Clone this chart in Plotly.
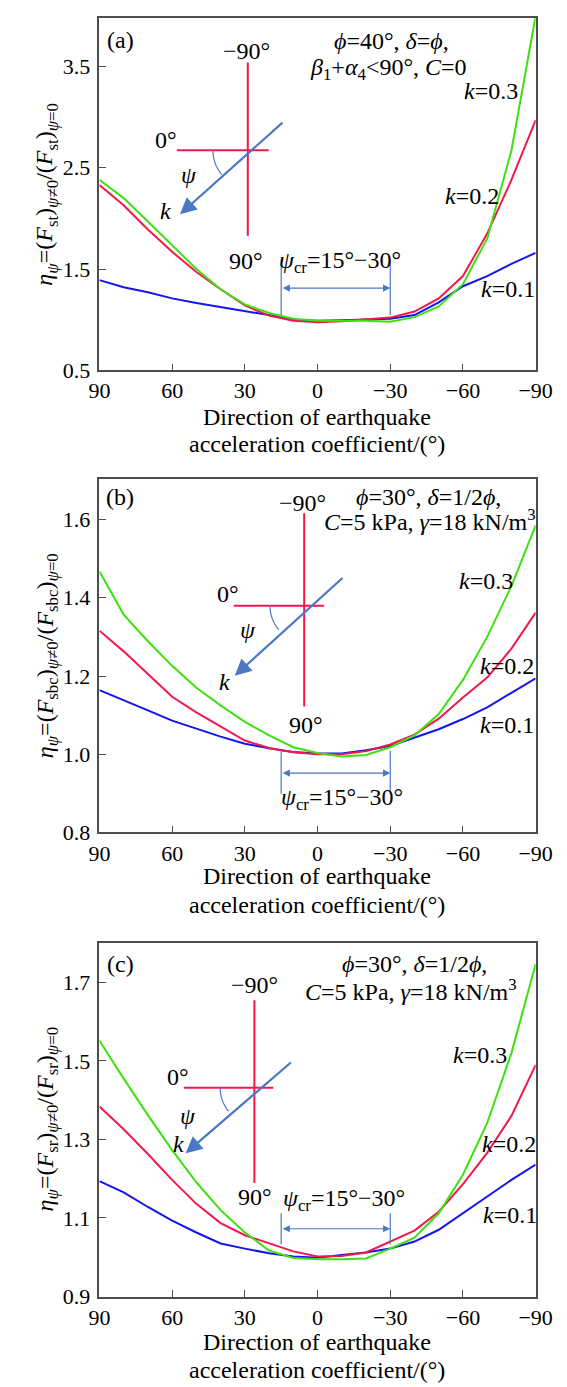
import math
import plotly.graph_objects as go

W, H = 567, 1387

# ---------------- data ----------------
psi = [90, 80, 70, 60, 50, 40, 30, 20, 10, 0, -10, -20, -30, -40, -50, -60, -70, -80, -90]

a_k01 = [1.39, 1.32, 1.27, 1.21, 1.165, 1.125, 1.09, 1.045, 1.00, 0.99, 0.995, 1.0, 1.01, 1.045, 1.17, 1.33, 1.43, 1.55, 1.66]
a_k02 = [2.33, 2.13, 1.89, 1.67, 1.47, 1.30, 1.14, 1.04, 0.99, 0.975, 0.985, 1.0, 1.02, 1.08, 1.21, 1.43, 1.85, 2.38, 2.97]
a_k03 = [2.38, 2.20, 1.97, 1.73, 1.50, 1.30, 1.15, 1.065, 1.01, 0.99, 0.99, 0.99, 0.98, 1.025, 1.13, 1.35, 1.80, 2.67, 4.0]

b_k01 = [1.164, 1.139, 1.112, 1.086, 1.065, 1.045, 1.027, 1.015, 1.006, 1.002, 1.002, 1.01, 1.021, 1.042, 1.064, 1.09, 1.12, 1.157, 1.194]
b_k02 = [1.316, 1.263, 1.205, 1.147, 1.107, 1.07, 1.035, 1.016, 1.005, 1.0, 1.0, 1.008, 1.025, 1.05, 1.091, 1.145, 1.196, 1.27, 1.362]
b_k03 = [1.467, 1.357, 1.289, 1.226, 1.17, 1.125, 1.083, 1.048, 1.018, 1.003, 0.994, 0.998, 1.018, 1.048, 1.103, 1.19, 1.30, 1.43, 1.585]

c_k01 = [1.194, 1.165, 1.128, 1.093, 1.063, 1.035, 1.022, 1.01, 1.002, 0.999, 1.006, 1.012, 1.022, 1.04, 1.07, 1.113, 1.155, 1.197, 1.236]
c_k02 = [1.384, 1.326, 1.263, 1.197, 1.136, 1.087, 1.056, 1.035, 1.015, 1.002, 1.003, 1.012, 1.04, 1.068, 1.116, 1.186, 1.266, 1.36, 1.49]
c_k03 = [1.552, 1.455, 1.362, 1.273, 1.191, 1.12, 1.063, 1.017, 0.998, 0.995, 0.995, 0.997, 1.022, 1.05, 1.112, 1.21, 1.342, 1.52, 1.747]

x_tick_vals = [90, 60, 30, 0, -30, -60, -90]
x_tick_text = ["90", "60", "30", "0", "\u221230", "\u221260", "\u221290"]
a_yticks = [0.5, 1.5, 2.5, 3.5]
b_yticks = [0.8, 1.0, 1.2, 1.4, 1.6]
c_yticks = [0.9, 1.1, 1.3, 1.5, 1.7]
a_yrange = [0.5, 3.98]
b_yrange = [0.8, 1.704]
c_yrange = [0.9, 1.80]
k_names = ["k=0.1", "k=0.2", "k=0.3"]
psi_cr = [15, -30]

# ---------------- style ----------------
FONT = "Liberation Serif"
FS = 24      # annotations / titles
FT = 22      # tick labels
C_BLUE = "#1414f0"
C_RED = "#f2184c"
C_GREEN = "#3ee012"
C_INSET_BLUE = "#4a78c4"
C_INSET_RED = "#f2184c"
C_AXIS = "#4d4d4d"


def PX(x):
    return x / W


def PY(y):
    return 1 - y / H


X_L, X_R = 84.6, 543.5

panels = [
    dict(
        ids=("x", "y"), top=10, bottom=365.7, yrange=a_yrange, yticks=a_yticks,
        series=[a_k01, a_k02, a_k03], letter="(a)", letter_pos=(106.7, 32),
        yt="<i>\u03b7</i><sub><i>\u03c8</i></sub>=(<i>F</i><sub>st</sub>)<sub><i>\u03c8</i>\u22600</sub>/(<i>F</i><sub>st</sub>)<sub><i>\u03c8</i>=0</sub>",
        cond=["<i>\u03d5</i>=40\u00b0, <i>\u03b4</i>=<i>\u03d5</i>,",
              "<i>\u03b2</i><sub>1</sub>+<i>\u03b1</i><sub>4</sub>&lt;90\u00b0, <i>C</i>=0"],
        cond_pos=[(392, 33.3), (388.6, 62)],
        kpos=[(514, 284), (476.7, 189.3), (496.7, 83.3)],
        vline=(240.7, 55, 230), hline=(143.7, 166, 262.7),
        blue=((273.3, 115.3), (169.3, 208.3)), r=36.7,
        lab={"m90": (239.3, 43.3), "z": (155, 133.3), "psi": (179.3, 168.3), "k": (154, 205), "p90": (238.6, 255)},
        cr=dict(y0=253.3, y1=310, ya=282.7, lab=(338, 256.7)),
        xt=(413.3, 440),
    ),
    dict(
        ids=("x2", "y2"), top=475.3, bottom=832.3, yrange=b_yrange, yticks=b_yticks,
        series=[b_k01, b_k02, b_k03], letter="(b)", letter_pos=(106.7, 493.3),
        yt="<i>\u03b7</i><sub><i>\u03c8</i></sub>=(<i>F</i><sub>sbc</sub>)<sub><i>\u03c8</i>\u22600</sub>/(<i>F</i><sub>sbc</sub>)<sub><i>\u03c8</i>=0</sub>",
        cond=["<i>\u03d5</i>=30\u00b0, <i>\u03b4</i>=1/2<i>\u03d5</i>,",
              "<i>C</i>=5 kPa, <i>\u03b3</i>=18 kN/m<sup>3</sup>"],
        cond_pos=[(431, 493.3), (432, 516.7)],
        kpos=[(513.4, 723.3), (513.4, 664), (491.7, 578.3)],
        vline=(300, 510, 705), hline=(603.3, 226, 321),
        blue=((336.2, 575), (227, 674)), r=36,
        lab={"m90": (298, 500), "z": (219.8, 591.7), "psi": (240.4, 628.3), "k": (216.2, 680), "p90": (301.9, 723.3)},
        cr=dict(y0=750, y1=793.3, ya=772.3, lab=(339.8, 798.3)),
        xt=(876.7, 905),
    ),
    dict(
        ids=("x3", "y3"), top=944, bottom=1300.7, yrange=c_yrange, yticks=c_yticks,
        series=[c_k01, c_k02, c_k03], letter="(c)", letter_pos=(106.7, 965),
        yt="<i>\u03b7</i><sub><i>\u03c8</i></sub>=(<i>F</i><sub>sr</sub>)<sub><i>\u03c8</i>\u22600</sub>/(<i>F</i><sub>sr</sub>)<sub><i>\u03c8</i>=0</sub>",
        cond=["<i>\u03d5</i>=30\u00b0, <i>\u03b4</i>=1/2<i>\u03d5</i>,",
              "<i>C</i>=5 kPa, <i>\u03b3</i>=18 kN/m<sup>3</sup>"],
        cond_pos=[(415.8, 965), (412, 991.7)],
        kpos=[(517, 1218.3), (515.2, 1146.7), (484.5, 1056.7)],
        vline=(247.6, 1001.7, 1186), hline=(1090, 173.5, 267.5),
        blue=((282, 1064), (175.3, 1156)), r=36,
        lab={"m90": (247.6, 986.7), "z": (167, 1079.3), "psi": (178, 1118.3), "k": (168, 1146.7), "p90": (248, 1200)},
        cr=dict(y0=1216.7, y1=1248.3, ya=1232.3, lab=(341.6, 1203.3)),
        xt=(1346.7, 1375),
    ),
]

fig = go.Figure()
annotations = []
shapes = []
colors = [C_BLUE, C_RED, C_GREEN]


def text_ann(txt, x, y, size=FS, xanchor="center", angle=0):
    return dict(text=txt, x=PX(x), y=PY(y), xref="paper", yref="paper", showarrow=False,
                xanchor=xanchor, yanchor="middle", textangle=angle,
                font=dict(family=FONT, size=size, color="black"))


layout_axes = {}
for i, p in enumerate(panels):
    xa, ya = p["ids"]
    for s, col, nm in zip(p["series"], colors, k_names):
        fig.add_trace(go.Scatter(x=psi, y=s, mode="lines", xaxis=xa, yaxis=ya, name=nm,
                                 line=dict(color=col, width=2), showlegend=False))
    xkey = "xaxis" if xa == "x" else "xaxis" + xa[1:]
    ykey = "yaxis" if ya == "y" else "yaxis" + ya[1:]
    layout_axes[xkey] = dict(domain=[PX(X_L), PX(X_R)], anchor=ya, range=[90, -90], autorange=False,
                             tickvals=x_tick_vals, ticktext=x_tick_text, ticks="inside", ticklen=7,
                             tickcolor=C_AXIS, showline=True, linecolor=C_AXIS, linewidth=1.5, mirror=True,
                             showgrid=False, zeroline=False,
                             tickfont=dict(family=FONT, size=FT, color="black"))
    layout_axes[ykey] = dict(domain=[PY(p["bottom"]), PY(p["top"])], anchor=xa, range=p["yrange"], autorange=False,
                             tickvals=p["yticks"], tickformat=".1f", ticks="inside", ticklen=7,
                             tickcolor=C_AXIS, showline=True, linecolor=C_AXIS, linewidth=1.5, mirror=True,
                             showgrid=False, zeroline=False, ticklabelstandoff=3,
                             tickfont=dict(family=FONT, size=FT, color="black"))

    annotations.append(text_ann(p["letter"], *p["letter_pos"]))
    annotations.append(text_ann(p["yt"], 29, (p["top"] + p["bottom"]) / 2, angle=-90))
    annotations.append(text_ann("Direction of earthquake", 314, p["xt"][0]))
    annotations.append(text_ann("acceleration coefficient/(\u00b0)", 314, p["xt"][1]))
    for t, pos in zip(p["cond"], p["cond_pos"]):
        annotations.append(text_ann(t, *pos))
    for nm, pos in zip(k_names, p["kpos"]):
        annotations.append(text_ann("<i>k</i>=" + nm[2:], *pos))

    vx, vy0, vy1 = p["vline"]
    hy, hx0, hx1 = p["hline"]
    shapes.append(dict(type="line", xref="paper", yref="paper", x0=PX(vx), x1=PX(vx), y0=PY(vy0), y1=PY(vy1),
                       line=dict(color=C_INSET_RED, width=2)))
    shapes.append(dict(type="line", xref="paper", yref="paper", x0=PX(hx0), x1=PX(hx1), y0=PY(hy), y1=PY(hy),
                       line=dict(color=C_INSET_RED, width=2)))
    (sx, sy), (tx, ty) = p["blue"]
    annotations.append(dict(text="", x=PX(tx), y=PY(ty), xref="paper", yref="paper", showarrow=True,
                            axref="pixel", ayref="pixel", ax=sx - tx, ay=sy - ty,
                            arrowhead=2, arrowsize=1.5, arrowwidth=2.2, arrowcolor=C_INSET_BLUE, standoff=0))
    ang = math.atan2(ty - sy, sx - tx)
    pts = []
    for j in range(21):
        a = math.pi + ang * j / 20
        px_ = vx + p["r"] * math.cos(a)
        py_ = hy - p["r"] * math.sin(a)
        pts.append((PX(px_), PY(py_)))
    path = "M " + " L ".join(f"{u:.5f},{v:.5f}" for u, v in pts)
    shapes.append(dict(type="path", xref="paper", yref="paper", path=path,
                       line=dict(color=C_INSET_BLUE, width=1.2)))
    lab = p["lab"]
    annotations.append(text_ann("\u221290\u00b0", *lab["m90"]))
    annotations.append(text_ann("0\u00b0", *lab["z"]))
    annotations.append(text_ann("<i>\u03c8</i>", *lab["psi"]))
    annotations.append(text_ann("<i>k</i>", *lab["k"]))
    annotations.append(text_ann("90\u00b0", *lab["p90"]))

    cr = p["cr"]
    for xv in psi_cr:
        shapes.append(dict(type="line", xref=xa, yref="paper", x0=xv, x1=xv, y0=PY(cr["y0"]), y1=PY(cr["y1"]),
                           line=dict(color=C_INSET_BLUE, width=1.2)))
    annotations.append(dict(text="", x=psi_cr[1], ax=psi_cr[0], xref=xa, axref=xa, y=PY(cr["ya"]), yref="paper",
                            ayref="pixel", ay=0, showarrow=True, arrowside="end+start", arrowhead=2,
                            arrowsize=1.2, arrowwidth=1.2, arrowcolor=C_INSET_BLUE, standoff=0, startstandoff=0))
    annotations.append(text_ann("<i>\u03c8</i><sub>cr</sub>=15\u00b0\u221230\u00b0", *cr["lab"]))

fig.update_layout(
    width=W, height=H, margin=dict(l=0, r=0, t=0, b=0),
    paper_bgcolor="white", plot_bgcolor="white",
    font=dict(family=FONT, size=FS, color="black"),
    annotations=annotations, shapes=shapes, showlegend=False,
    **layout_axes,
)

fig.write_html("out.html")
